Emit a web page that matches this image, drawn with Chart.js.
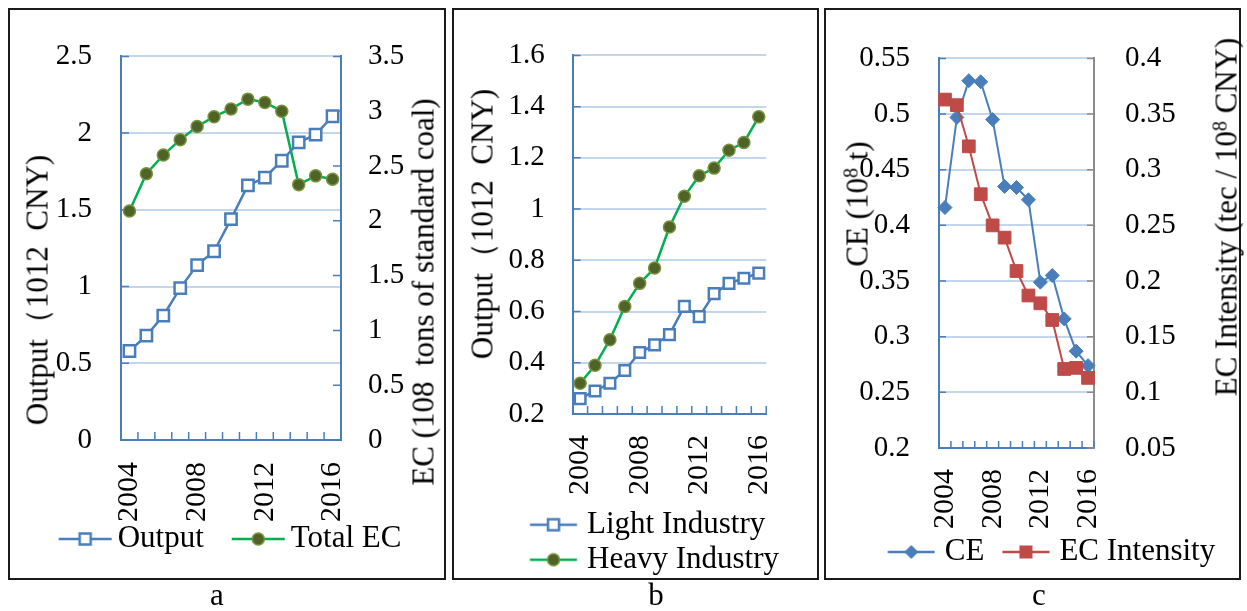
<!DOCTYPE html>
<html>
<head>
<meta charset="utf-8">
<script src="https://cdn.jsdelivr.net/npm/chart.js@4.4.1/dist/chart.umd.min.js"></script>
<style>
  body { margin: 0; background: #fff; width: 1247px; height: 611px; position: relative; overflow: hidden;
         font-family: "Liberation Serif", "Times New Roman", serif; color: #000; }
  .box { position: absolute; top: 8px; height: 572px; border: 2px solid #1a1a1a; box-sizing: border-box; }
  canvas { position: absolute; }
  .ttl { position: absolute; font-size: 31px; line-height: 1; white-space: pre;
         transform: translate(-50%, -50%) rotate(-90deg); }
  .ttl sup { font-size: 20px; vertical-align: 10px; line-height: 0; }
  .cap { position: absolute; top: 579px; font-size: 31px; line-height: 31px; transform: translateX(-50%); }
</style>
</head>
<body>
<div class="box" style="left:8px;width:438px"></div>
<div class="box" style="left:452px;width:367px"></div>
<div class="box" style="left:824px;width:417px"></div>

<canvas id="ca" width="434" height="590" style="left:10px;top:10px"></canvas>
<canvas id="cb" width="363" height="590" style="left:454px;top:10px"></canvas>
<canvas id="cc" width="447" height="590" style="left:800px;top:10px"></canvas>

<div class="ttl" style="left:37px;top:290px">Output（1012  CNY)</div>
<div class="ttl" style="left:423px;top:292px">EC (108  tons of standard coal)</div>
<div class="ttl" style="left:482px;top:224px">Output（1012  CNY)</div>
<div class="ttl" style="left:857px;top:204px">CE (10<sup>8</sup> t)</div>
<div class="ttl" style="left:1226px;top:217px">EC Intensity (tec / 10<sup>8</sup> CNY)</div>

<div class="cap" style="left:217px">a</div>
<div class="cap" style="left:656px">b</div>
<div class="cap" style="left:1039px">c</div>

<script>
const years = ["2004", "2005", "2006", "2007", "2008", "2009", "2010", "2011", "2012", "2013", "2014", "2015", "2016"];
const shownYears = ["2004", "2008", "2012", "2016"];

// panel a
const output = [0.58, 0.68, 0.81, 0.99, 1.14, 1.23, 1.44, 1.66, 1.71, 1.82, 1.94, 1.99, 2.11];
const totalEC = [2.09, 2.43, 2.6, 2.74, 2.86, 2.95, 3.02, 3.11, 3.08, 3.0, 2.33, 2.41, 2.38];
// panel b
const lightIndustry = [0.26, 0.29, 0.32, 0.37, 0.44, 0.47, 0.51, 0.62, 0.58, 0.67, 0.71, 0.73, 0.75];
const heavyIndustry = [0.32, 0.39, 0.49, 0.62, 0.71, 0.77, 0.93, 1.05, 1.13, 1.16, 1.23, 1.26, 1.36];
// panel c
const ce = [0.416, 0.497, 0.53, 0.529, 0.495, 0.435, 0.434, 0.423, 0.349, 0.355, 0.316, 0.287, 0.274];
const ecIntensity = [0.363, 0.358, 0.321, 0.278, 0.25, 0.239, 0.209, 0.187, 0.18, 0.165, 0.121, 0.122, 0.113];

// axis tick labels
const aLeftTicks = [0, 0.5, 1, 1.5, 2, 2.5];
const aRightTicks = [0, 0.5, 1, 1.5, 2, 2.5, 3, 3.5];
const bTicks = [0.2, 0.4, 0.6, 0.8, 1, 1.2, 1.4, 1.6];
const cLeftTicks = [0.2, 0.25, 0.3, 0.35, 0.4, 0.45, 0.5, 0.55];
const cRightTicks = [0.05, 0.1, 0.15, 0.2, 0.25, 0.3, 0.35, 0.4];

const BLUE = "#4a7ebb";
const GREEN = "#00b050";
const OLIVE = "#4f6228";
const OLIVE_EDGE = "#77933c";
const RED = "#be4b48";
const GRID = "#c4d6ec";
const GRAY = "#8c8c8c";

Chart.defaults.font.family = '"Liberation Serif", "Times New Roman", serif';
Chart.defaults.color = "#000";

// Excel style tick marks that point into the plot
const innerTicks = {
  id: "innerTicks",
  beforeDatasetsDraw(chart, args, opts) {
    const ctx = chart.ctx;
    const len = opts.len || 8;
    ctx.save();
    ctx.lineWidth = 1.5;
    for (const s of Object.values(chart.scales)) {
      ctx.strokeStyle = s.options.border.color;
      ctx.beginPath();
      if (s.axis === "x") {
        const n = s.ticks.length;
        for (let i = 0; i <= n; i++) {
          let x;
          if (i === 0) x = s.left;
          else if (i === n) x = s.right;
          else x = (s.getPixelForTick(i - 1) + s.getPixelForTick(i)) / 2;
          ctx.moveTo(x, s.top);
          ctx.lineTo(x, s.top - len);
        }
      } else {
        const x0 = s.position === "left" ? s.right : s.left;
        const dir = s.position === "left" ? 1 : -1;
        s.ticks.forEach((t) => {
          const y = s.getPixelForValue(t.value);
          ctx.moveTo(x0, y);
          ctx.lineTo(x0 + dir * len, y);
        });
      }
      ctx.stroke();
    }
    ctx.restore();
  },
};

// legend symbol: a short line with the marker in the middle,
// drawn from x = start to start + len inside a canvas of width w
function swatch(w, start, len, lineColor, style, fill, edge, r, bw) {
  const c = document.createElement("canvas");
  c.width = w;
  c.height = 24;
  const g = c.getContext("2d");
  g.strokeStyle = lineColor;
  g.lineWidth = 2.5;
  g.beginPath();
  g.moveTo(start, 12);
  g.lineTo(start + len, 12);
  g.stroke();
  g.fillStyle = fill;
  g.strokeStyle = edge;
  g.lineWidth = bw;
  g.beginPath();
  const m = start + len / 2;
  if (style === "circle") {
    g.arc(m, 12, r, 0, Math.PI * 2);
  } else if (style === "rect") {
    g.rect(m - r, 12 - r, 2 * r, 2 * r);
  } else {
    g.moveTo(m, 12 - r);
    g.lineTo(m + r, 12);
    g.lineTo(m, 12 + r);
    g.lineTo(m - r, 12);
    g.closePath();
  }
  g.fill();
  if (bw) g.stroke();
  return c;
}

function xAxis(height, pad) {
  return {
    type: "category",
    offset: true,
    afterFit: (s) => { s.height = height; },
    ticks: {
      autoSkip: false,
      minRotation: 90,
      maxRotation: 90,
      padding: pad,
      font: { size: 30 },
      callback: (v, i) => (shownYears.includes(years[i]) ? years[i] : ""),
    },
    grid: { display: true, drawOnChartArea: false, drawTicks: false, offset: true },
    border: { color: BLUE, width: 2 },
  };
}

function yAxis(ticks, pos, width, pad, borderColor, showGrid) {
  return {
    type: "linear",
    position: pos,
    min: ticks[0],
    max: ticks[ticks.length - 1],
    afterBuildTicks: (s) => { s.ticks = ticks.map((v) => ({ value: v })); },
    afterFit: (s) => { s.width = width; },
    ticks: { padding: pad, font: { size: 29 }, callback: (v) => String(v) },
    grid: { display: true, drawOnChartArea: showGrid, drawTicks: false, color: GRID, lineWidth: 2 },
    border: { color: borderColor, width: 2 },
  };
}

function series(label, data, axis, color, style, fill, edge, r, bw, lw) {
  return {
    label: label,
    data: data,
    yAxisID: axis,
    borderColor: color,
    borderWidth: lw,
    tension: 0,
    pointStyle: style,
    pointRadius: r,
    pointBackgroundColor: fill,
    pointBorderColor: edge,
    pointBorderWidth: bw,
    clip: false,
  };
}

function legendOpts(swatches, pad, boxW, align) {
  return {
    position: "bottom",
    align: align || "center",
    labels: {
      usePointStyle: true,
      pointStyleWidth: boxW,
      padding: pad,
      font: { size: 31 },
      generateLabels: (chart) =>
        chart.data.datasets.map((d, i) => ({
          text: d.label,
          pointStyle: swatches[i],
          datasetIndex: i,
          fontColor: "#000",
          lineWidth: 0,
          hidden: false,
        })),
    },
  };
}

// a
new Chart(document.getElementById("ca"), {
  type: "line",
  data: {
    labels: years,
    datasets: [
      series("Output", output, "y", BLUE, "rect", "#fff", BLUE, 8, 2.5, 2.5),
      series("Total EC", totalEC, "y2", GREEN, "circle", OLIVE, OLIVE_EDGE, 6, 1.5, 2.5),
    ],
  },
  options: {
    responsive: false,
    animation: false,
    layout: { padding: { left: 0, right: 21.5, top: 27, bottom: 35.5 } },
    scales: {
      x: xAxis(83, 22),
      y: yAxis(aLeftTicks, "left", 111, 29, BLUE, true),
      y2: yAxis(aRightTicks, "right", 81.5, 27, BLUE, false),
    },
    plugins: {
      legend: legendOpts([
        swatch(92, 38, 53, BLUE, "rect", "#fff", BLUE, 5.5, 2.5),
        swatch(92, 38, 53, GREEN, "circle", OLIVE, OLIVE_EDGE, 6, 1.5),
      ], 0.5, 71),
      tooltip: { enabled: false },
      innerTicks: { len: 8 },
    },
  },
  plugins: [innerTicks],
});

// b
new Chart(document.getElementById("cb"), {
  type: "line",
  data: {
    labels: years,
    datasets: [
      series("Light Industry", lightIndustry, "y", BLUE, "rect", "#fff", BLUE, 7.5, 2.5, 2.5),
      series("Heavy Industry", heavyIndustry, "y", GREEN, "circle", OLIVE, OLIVE_EDGE, 6, 1.5, 2.5),
    ],
  },
  options: {
    responsive: false,
    animation: false,
    layout: { padding: { left: 50, right: 32, top: 27, bottom: 14.8 } },
    scales: {
      x: xAxis(91.2, 21),
      y: yAxis(bTicks, "left", 68.7, 28, BLUE, true),
    },
    plugins: {
      legend: legendOpts([
        swatch(80, 30.25, 47, BLUE, "rect", "#fff", BLUE, 5.5, 2.5),
        swatch(80, 30.25, 47, GREEN, "circle", OLIVE, OLIVE_EDGE, 6, 1.5),
      ], 4, 63.5, "start"),
      tooltip: { enabled: false },
      innerTicks: { len: 8 },
    },
  },
  plugins: [innerTicks],
});

// c
const ceSet = series("CE", ce, "y", BLUE, "rectRot", BLUE, BLUE, 7, 1, 2);
ceSet.order = 1;
const eciSet = series("EC Intensity", ecIntensity, "y2", RED, "rect", RED, RED, 9, 1, 2);
eciSet.order = 0;

new Chart(document.getElementById("cc"), {
  type: "line",
  data: { labels: years, datasets: [ceSet, eciSet] },
  options: {
    responsive: false,
    animation: false,
    layout: { padding: { left: 43.5, right: 0, top: 40.5, bottom: 22.5 } },
    scales: {
      x: xAxis(83, 21),
      y: yAxis(cLeftTicks, "left", 95.5, 29, BLUE, true),
      y2: yAxis(cRightTicks, "right", 153, 31, GRAY, false),
    },
    plugins: {
      legend: legendOpts([
        swatch(66, 18.5, 47, BLUE, "diamond", BLUE, BLUE, 7, 0),
        swatch(66, 18.5, 47, RED, "rect", RED, RED, 6.5, 0),
      ], 5.5, 54),
      tooltip: { enabled: false },
      innerTicks: { len: 7 },
    },
  },
  plugins: [innerTicks],
});
</script>
</body>
</html>
